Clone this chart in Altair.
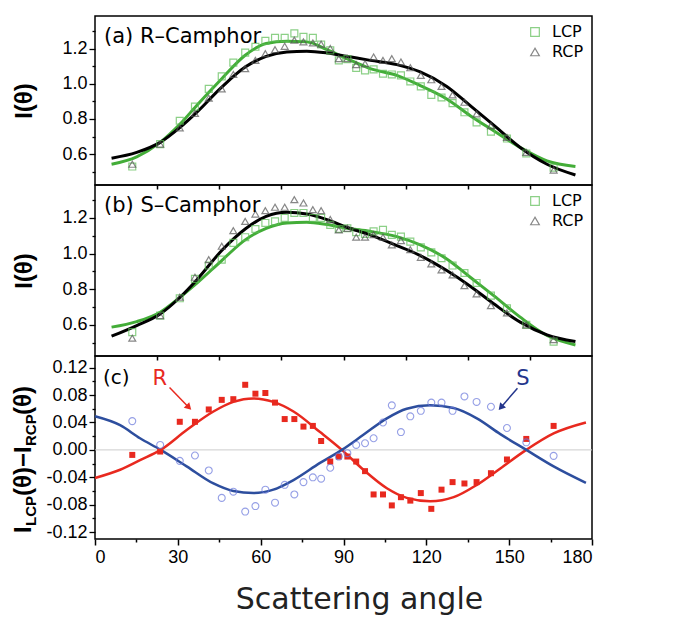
import altair as alt
import pandas as pd

# ---------------- data ----------------
ANGLES = [13.5, 23.6, 30.7, 36.2, 41.2, 45.9, 50.1, 54.4, 58.1, 61.7, 65.2, 68.7,
          72.2, 75.5, 78.9, 81.9, 85.2, 88.3, 91.4, 94.6, 97.8, 100.9, 104.3, 107.5,
          110.8, 114.2, 118.0, 121.8, 125.5, 129.5, 133.8, 138.2, 143.4, 149.2, 156.2, 166.1]

A_LCP = [0.530, 0.657, 0.790, 0.870, 0.971, 1.042, 1.120, 1.177, 1.210, 1.244, 1.261, 1.261,
         1.286, 1.267, 1.261, 1.223, 1.190, 1.133, 1.140, 1.090, 1.076, 1.082, 1.057, 1.053,
         1.048, 1.013, 0.985, 0.937, 0.922, 0.890, 0.838, 0.781, 0.728, 0.689, 0.604, 0.524]
A_RCP = [0.543, 0.657, 0.749, 0.832, 0.918, 0.971, 1.053, 1.086, 1.133, 1.171, 1.194, 1.213,
         1.248, 1.238, 1.232, 1.225, 1.200, 1.143, 1.143, 1.109, 1.114, 1.152, 1.133, 1.143,
         1.124, 1.091, 1.048, 1.023, 0.985, 0.937, 0.895, 0.829, 0.762, 0.695, 0.610, 0.510]
B_LCP = [0.559, 0.652, 0.749, 0.858, 0.933, 0.966, 1.060, 1.092, 1.138, 1.172, 1.181, 1.200,
         1.228, 1.228, 1.200, 1.200, 1.161, 1.138, 1.142, 1.120, 1.110, 1.125, 1.133, 1.105,
         1.095, 1.067, 1.035, 1.007, 0.974, 0.933, 0.891, 0.835, 0.764, 0.693, 0.600, 0.506]
B_RCP = [0.525, 0.652, 0.755, 0.867, 0.966, 1.041, 1.129, 1.181, 1.222, 1.241, 1.260, 1.260,
         1.303, 1.284, 1.247, 1.241, 1.191, 1.133, 1.142, 1.092, 1.092, 1.106, 1.092, 1.049,
         1.073, 1.022, 0.979, 0.942, 0.908, 0.880, 0.820, 0.774, 0.708, 0.667, 0.600, 0.517]
C_R = [-0.0073, -0.0024, 0.041, 0.041, 0.059, 0.073, 0.074, 0.095, 0.082, 0.083, 0.069, 0.045,
       0.045, 0.034, 0.035, 0.013, -0.017, -0.0097, -0.0097, -0.017, -0.031, -0.065, -0.065, -0.081,
       -0.069, -0.074, -0.063, -0.086, -0.058, -0.047, -0.049, -0.047, -0.034, -0.014, 0.016, 0.035]
C_S = [0.042, 0.0073, -0.016, -0.0082, -0.030, -0.070, -0.061, -0.090, -0.082, -0.058, -0.077, -0.051,
       -0.065, -0.047, -0.040, -0.042, -0.026, -0.0097, -0.0048, 0.0073, 0.0097, 0.017, 0.040, 0.065,
       0.026, 0.049, 0.057, 0.069, 0.069, 0.057, 0.078, 0.070, 0.063, 0.032, 0.011, -0.0087]

FIT_X = [6.0, 15.1, 23.6, 30.8, 37.0, 45.9, 54.4, 62.0, 69.5, 76.7, 84.0, 91.2, 99.7, 109.3,
         117.8, 127.4, 135.9, 144.4, 154.0, 163.7, 174.0]
A_FIT_LCP = [0.543, 0.585, 0.667, 0.771, 0.880, 1.029, 1.162, 1.229, 1.242, 1.238, 1.194, 1.143,
             1.086, 1.048, 0.990, 0.914, 0.819, 0.733, 0.638, 0.562, 0.530]
A_FIT_RCP = [0.577, 0.610, 0.667, 0.752, 0.840, 0.981, 1.095, 1.156, 1.181, 1.185, 1.175, 1.156,
             1.133, 1.109, 1.067, 0.985, 0.876, 0.765, 0.638, 0.543, 0.482]
B_FIT_LCP = [0.587, 0.618, 0.671, 0.755, 0.835, 0.961, 1.077, 1.142, 1.172, 1.176, 1.163, 1.142,
             1.125, 1.095, 1.049, 0.970, 0.867, 0.764, 0.643, 0.540, 0.487]
B_FIT_RCP = [0.536, 0.596, 0.661, 0.755, 0.855, 1.017, 1.138, 1.209, 1.232, 1.222, 1.191, 1.148,
             1.105, 1.045, 0.989, 0.905, 0.817, 0.718, 0.615, 0.544, 0.506]

C_FIT_X = [0.0, 9.1, 16.3, 23.8, 33.2, 42.9, 50.1, 57.4, 64.6, 71.9, 81.5, 89.4, 97.2, 105.7,
           112.9, 121.4, 129.9, 138.3, 146.8, 156.2, 166.1, 177.8]
C_FIT_R = [-0.041, -0.029, -0.015, 0.0, 0.029, 0.056, 0.070, 0.075, 0.070, 0.056, 0.026, 0.0,
           -0.029, -0.056, -0.070, -0.075, -0.069, -0.051, -0.027, 0.0, 0.024, 0.040]
C_FIT_S = [0.049, 0.036, 0.017, 0.0, -0.024, -0.049, -0.060, -0.063, -0.058, -0.044, -0.019, 0.0,
           0.022, 0.046, 0.060, 0.065, 0.061, 0.046, 0.023, 0.0, -0.024, -0.048]

SERIES = ["LCP", "RCP"]
FITS = ["LCP fit", "RCP fit"]
PANEL_LABELS = ["(a) R\u2013Camphor", "(b) S\u2013Camphor", "(c)"]

# arrows (start angle, start value, end angle, end value)
ARROWS = {"R": [27.0, 0.091, 34.0, 0.062], "S": [153.0, 0.090, 147.0, 0.062]}
RS_LABELS = {"R": [23.5, 0.104], "S": [155.0, 0.103]}

# ---------------- styling ----------------
GREEN_PT = "#5cbd55"
GREEN_LN = "#43ad38"
GRAY_PT = "#555555"
RED = "#e8291f"
BLUE_LN = "#2d4e9e"
BLUE_PT = "#6a78dc"
NAVY = "#24368c"
W = 497
LABEL_FONT = "Liberation Sans"
TEXT_FONT = "DejaVu Sans"


def x_scale():
    return alt.Scale(domain=[0, 180], nice=False, zero=False)


def intensity_panel(lcp, rcp, fit_l, fit_r, label, height):
    pts = pd.DataFrame({"angle": ANGLES * 2, "value": lcp + rcp,
                        "series": [SERIES[0]] * len(lcp) + [SERIES[1]] * len(rcp)})
    fit = pd.DataFrame({"angle": FIT_X * 2, "value": fit_l + fit_r,
                        "fit": [FITS[0]] * len(fit_l) + [FITS[1]] * len(fit_r)})
    x = alt.X("angle:Q", scale=x_scale(),
              axis=alt.Axis(values=[22.5 * i for i in range(1, 8)], labels=False, title="",
                            tickSize=4, tickWidth=1.5))
    yaxis = alt.Axis(
        values=[0.5, 0.6, 0.7, 0.8, 0.9, 1.0, 1.1, 1.2, 1.3],
        labelExpr="abs(round(datum.value*10)) % 2 == 0 ? format(datum.value, '.1f') : ''",
        tickSize={"condition": {"test": "abs(round(datum.value*10)) % 2 == 0", "value": 6}, "value": 3},
        title="I(\u03b8)", titleX=-64, titleBaseline="alphabetic", titleFontSize=24,
        titleFont=LABEL_FONT, titleFontWeight="bold", titleAngle=270)
    y = alt.Y("value:Q", scale=alt.Scale(domain=[0.425, 1.385], nice=False, zero=False), axis=yaxis)

    lines = alt.Chart(fit).mark_line(strokeWidth=3, interpolate="monotone").encode(
        x=x, y=y,
        stroke=alt.Stroke("fit:N", scale=alt.Scale(domain=FITS, range=[GREEN_LN, "#000000"]),
                          legend=None),
        detail="fit:N")
    leg = alt.Legend(title=None, orient="top-right", offset=6, padding=2, labelFontSize=16,
                     labelFont=TEXT_FONT, labelColor="black", symbolSize=75, symbolStrokeWidth=1.2,
                     labelOffset=9, rowPadding=4, symbolFillColor="transparent")
    points = alt.Chart(pts).mark_point(filled=False, strokeWidth=1.2, size=48).encode(
        x=x, y=y,
        color=alt.Color("series:N", scale=alt.Scale(domain=SERIES, range=[GREEN_PT, GRAY_PT]), legend=leg),
        shape=alt.Shape("series:N", scale=alt.Scale(domain=SERIES, range=["square", "triangle-up"]),
                        legend=leg))
    text = alt.Chart(pd.DataFrame({"t": [label]})).mark_text(
        align="left", baseline="alphabetic", font=TEXT_FONT, fontSize=21, color="black").encode(
        x=alt.value(9), y=alt.value(27), text="t:N")
    return alt.layer(lines, points, text).properties(width=W, height=height)


panel_a = intensity_panel(A_LCP, A_RCP, A_FIT_LCP, A_FIT_RCP, PANEL_LABELS[0], 169)
panel_b = intensity_panel(B_LCP, B_RCP, B_FIT_LCP, B_FIT_RCP, PANEL_LABELS[1], 171)

# ---------------- panel c ----------------
c_ticks = [round(-0.12 + 0.02 * i, 2) for i in range(13)]
CX_AXIS = alt.Axis(values=list(range(0, 181, 15)),
                   labelExpr="datum.value % 30 == 0 ? datum.label : ''",
                   tickSize={"condition": {"test": "datum.value % 30 == 0", "value": 6}, "value": 3},
                   tickWidth=1.5, labelPadding=3,
                   title="Scattering angle", titleFont=TEXT_FONT, titleFontSize=30,
                   titleFontWeight="normal", titlePadding=18, titleColor="#222222", titleX=264)
C_SCALE = alt.Scale(domain=[-0.13, 0.137], nice=False, zero=False)
CY_AXIS = alt.Axis(values=c_ticks,
                   labelExpr="abs(round(datum.value*100)) % 4 == 0 ? (datum.value < 0 ? '-' : '') + format(abs(datum.value), '.2f') : ''",
                   tickSize={"condition": {"test": "abs(round(datum.value*100)) % 4 == 0", "value": 6}, "value": 3},
                   title="")


def cxe(field="angle:Q"):
    return alt.X(field, scale=x_scale(), axis=CX_AXIS)


def cye(field):
    return alt.Y(field, scale=C_SCALE, axis=CY_AXIS)


cpts = pd.DataFrame({"angle": ANGLES, "R": C_R, "S": C_S})
cfit = pd.DataFrame({"angle": C_FIT_X, "R": C_FIT_R, "S": C_FIT_S})

zero = alt.Chart(pd.DataFrame({"value": [0.0]})).mark_rule(color="#cccccc", strokeWidth=1).encode(
    y=cye("value:Q"))
red_line = alt.Chart(cfit).mark_line(color=RED, strokeWidth=2.5, interpolate="monotone").encode(
    x=cxe(), y=cye("R:Q"))
blue_line = alt.Chart(cfit).mark_line(color=BLUE_LN, strokeWidth=2.5, interpolate="monotone").encode(
    x=cxe(), y=cye("S:Q"))
red_pts = alt.Chart(cpts).mark_square(color=RED, size=36, opacity=1).encode(x=cxe(), y=cye("R:Q"))
blue_pts = alt.Chart(cpts).mark_point(shape="circle", filled=False, color=BLUE_PT, size=48,
                                      strokeWidth=1.1).encode(x=cxe(), y=cye("S:Q"))

arrow_df = pd.DataFrame({"name": list(ARROWS.keys()),
                         "x0": [v[0] for v in ARROWS.values()], "y0": [v[1] for v in ARROWS.values()],
                         "x1": [v[2] for v in ARROWS.values()], "y1": [v[3] for v in ARROWS.values()]})
arrow_color = alt.Color("name:N", scale=alt.Scale(domain=["R", "S"], range=[RED, NAVY]), legend=None)
arrow_lines = alt.Chart(arrow_df).mark_rule(strokeWidth=1.5).encode(
    x=cxe("x0:Q"), y=cye("y0:Q"), x2="x1:Q", y2="y1:Q", color=arrow_color)
head_r = alt.Chart(arrow_df[arrow_df.name == "R"]).mark_point(
    shape="triangle-up", filled=True, size=60, angle=135, opacity=1).encode(
    x=cxe("x1:Q"), y=cye("y1:Q"), color=arrow_color)
head_s = alt.Chart(arrow_df[arrow_df.name == "S"]).mark_point(
    shape="triangle-up", filled=True, size=60, angle=221, opacity=1).encode(
    x=cxe("x1:Q"), y=cye("y1:Q"), color=arrow_color)

rs_df = pd.DataFrame({"name": list(RS_LABELS.keys()), "angle": [v[0] for v in RS_LABELS.values()],
                      "value": [v[1] for v in RS_LABELS.values()]})
rs_text = alt.Chart(rs_df).mark_text(font=TEXT_FONT, fontSize=21, baseline="middle").encode(
    x=cxe(), y=cye("value:Q"), text="name:N", color=arrow_color)
c_label = alt.Chart(pd.DataFrame({"t": [PANEL_LABELS[2]]})).mark_text(
    align="left", baseline="middle", font=TEXT_FONT, fontSize=20, color="black").encode(
    x=alt.value(8), y=alt.value(22), text="t:N")

# y-axis title with subscripts, built from pieces
TITLE_PIECES = [("I", 24, 177, -64), ("LCP", 15, 170, -59), ("(\u03b8)\u2212I", 24, 140, -64),
                ("RCP", 15, 90, -59), ("(\u03b8)", 24, 59, -64)]
title_layers = []
for txt, fs, ypos, xpos in TITLE_PIECES:
    title_layers.append(
        alt.Chart(pd.DataFrame({"t": [txt]})).mark_text(
            angle=270, align="left", baseline="alphabetic", font=LABEL_FONT, fontSize=fs,
            fontWeight="bold", color="black").encode(
            x=alt.value(xpos), y=alt.value(ypos), text="t:N"))

panel_c = alt.layer(zero, red_line, blue_line, red_pts, blue_pts, arrow_lines, head_r, head_s,
                    rs_text, c_label, *title_layers).properties(width=W, height=183)

chart = alt.vconcat(panel_a, panel_b, panel_c, spacing=0, bounds="flush").resolve_scale(
    color="independent", shape="independent", stroke="independent", y="independent"
).resolve_legend(color="independent", shape="independent").resolve_axis(
    x="independent", y="independent"
).properties(
    padding={"left": 11, "top": 15, "right": 5, "bottom": 5}, background="white"
).configure_view(
    stroke="black", strokeWidth=1.5
).configure_axis(
    labelFont=LABEL_FONT, labelFontSize=18, labelColor="black", tickColor="black",
    domain=False, grid=False, labelPadding=2, tickWidth=1.3
)

chart.save("out.html", embed_options={"renderer": "svg", "actions": False})
